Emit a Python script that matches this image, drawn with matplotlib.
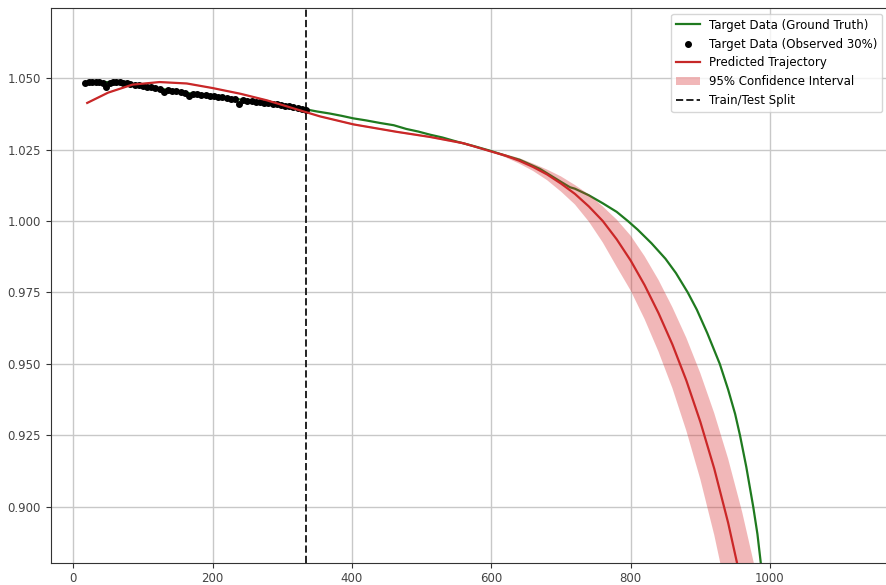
import matplotlib
matplotlib.use("Agg")
import matplotlib.pyplot as plt
from matplotlib.ticker import MultipleLocator, FormatStrFormatter

# ground truth curve
truth_x = [17, 45, 75, 100, 125, 160, 200, 240, 280, 310, 335, 350, 368, 385, 402, 420,
           440, 460, 478, 495, 512, 530, 550, 575, 598, 620, 641, 670, 700, 713, 720, 740,
           760, 780, 796, 810, 830, 850, 865, 882, 895, 910, 920, 928, 940, 950, 957, 966,
           976, 982, 987, 995]
truth_y = [1.0486, 1.0486, 1.0483, 1.0473, 1.0463, 1.0449, 1.0437, 1.0425, 1.0412, 1.0402,
           1.0390, 1.0383, 1.0376, 1.0368, 1.0359, 1.0352, 1.0343, 1.0335, 1.0322, 1.0313,
           1.0302, 1.0292, 1.0278, 1.0262, 1.0246, 1.0229, 1.0214, 1.0182, 1.0137, 1.0118,
           1.0113, 1.0090, 1.0062, 1.0032, 1.0000, 0.9970, 0.9922, 0.9868, 0.9818, 0.9750,
           0.9690, 0.9608, 0.9548, 0.9500, 0.9410, 0.9325, 0.9250, 0.9140, 0.9000, 0.8905,
           0.8800, 0.8650]

# observed 30% of the target
obs_x = [17, 22, 27, 32, 37, 42, 47, 52, 57, 62, 67, 72, 77, 82, 88, 94, 100, 106, 112,
         118, 124, 130, 136, 142, 148, 154, 160, 166, 172, 178, 184, 190, 196, 202, 208,
         214, 220, 226, 232, 238, 244, 250, 256, 262, 268, 274, 280, 286, 292, 298, 304,
         310, 316, 322, 328, 334]
obs_y = [1.0484, 1.0486, 1.0485, 1.0487, 1.0486, 1.0484, 1.0470, 1.0484, 1.0486, 1.0487,
         1.0486, 1.0484, 1.0481, 1.0479, 1.0477, 1.0476, 1.0472, 1.0469, 1.0467, 1.0464,
         1.0462, 1.0450, 1.0458, 1.0455, 1.0453, 1.0451, 1.0448, 1.0438, 1.0445, 1.0443,
         1.0441, 1.0440, 1.0438, 1.0436, 1.0434, 1.0432, 1.0430, 1.0428, 1.0426, 1.0410,
         1.0422, 1.0420, 1.0419, 1.0417, 1.0415, 1.0413, 1.0411, 1.0410, 1.0408, 1.0406,
         1.0404, 1.0401, 1.0398, 1.0395, 1.0392, 1.0389]

# predicted trajectory and 95% interval
pred_x = [20, 50, 85, 124, 163, 200, 240, 278, 316, 354, 402, 464, 512, 560, 600, 620,
          640, 660, 680, 700, 720, 740, 760, 780, 800, 820, 840, 860, 880, 900, 920, 940,
          960, 980, 1000]
pred_y = [1.0413, 1.0449, 1.0477, 1.0486, 1.0481, 1.0465, 1.0445, 1.0422, 1.0394, 1.0366,
          1.0338, 1.0312, 1.0294, 1.0272, 1.0243, 1.0229, 1.0211, 1.0189, 1.0163, 1.0131,
          1.0095, 1.0051, 1.0000, 0.9936, 0.9862, 0.9776, 0.9678, 0.9568, 0.9442, 0.9298,
          0.9134, 0.8944, 0.8724, 0.8464, 0.8180]
ci_low = [1.0411, 1.0447, 1.0475, 1.0484, 1.0479, 1.0463, 1.0443, 1.0420, 1.0392, 1.0364,
          1.0335, 1.0309, 1.0291, 1.0268, 1.0241, 1.0223, 1.0201, 1.0175, 1.0143, 1.0103,
          1.0058, 0.9998, 0.9925, 0.9840, 0.9757, 0.9657, 0.9543, 0.9415, 0.9266, 0.9097,
          0.8902, 0.8675, 0.8410, 0.8100, 0.7780]
ci_high = [1.0415, 1.0451, 1.0479, 1.0488, 1.0483, 1.0467, 1.0447, 1.0424, 1.0396, 1.0368,
           1.0341, 1.0315, 1.0297, 1.0276, 1.0245, 1.0234, 1.0220, 1.0201, 1.0180, 1.0156,
           1.0126, 1.0093, 1.0051, 1.0005, 0.9949, 0.9877, 0.9794, 0.9698, 0.9591, 0.9468,
           0.9328, 0.9168, 0.8983, 0.8770, 0.8520]

split_x = 334

fig = plt.figure(figsize=(8.87, 5.85), dpi=100)
ax = fig.add_axes([50.7 / 887, 22.3 / 585, 837.3 / 887, 554.7 / 585])

ax.plot(truth_x, truth_y, color="#1f7a1f", lw=1.6, label="Target Data (Ground Truth)")
ax.scatter(obs_x, obs_y, color="black", s=16, zorder=3, label="Target Data (Observed 30%)")
ax.plot(pred_x, pred_y, color="#c62828", lw=1.6, zorder=4, label="Predicted Trajectory")
ax.fill_between(pred_x, ci_low, ci_high, color="#d62728", alpha=0.33, lw=0, zorder=4,
                label="95% Confidence Interval")
ax.axvline(split_x, color="#222222", ls="--", lw=1.4, label="Train/Test Split")

ax.set_xlim(-32.4, 1169.4)
ax.set_ylim(0.8805, 1.0745)
ax.xaxis.set_major_locator(MultipleLocator(200))
ax.yaxis.set_major_locator(MultipleLocator(0.025))
ax.yaxis.set_major_formatter(FormatStrFormatter("%.3f"))
ax.tick_params(labelsize=8.5, colors="#333333", labelcolor="#444444")
ax.grid(True, color="#c8c8c8", lw=1.0)
ax.set_axisbelow(True)
for s in ax.spines.values():
    s.set_color("#333333")

ax.legend(loc="upper right", fontsize=8.5)

fig.savefig("out.png", dpi=100)
